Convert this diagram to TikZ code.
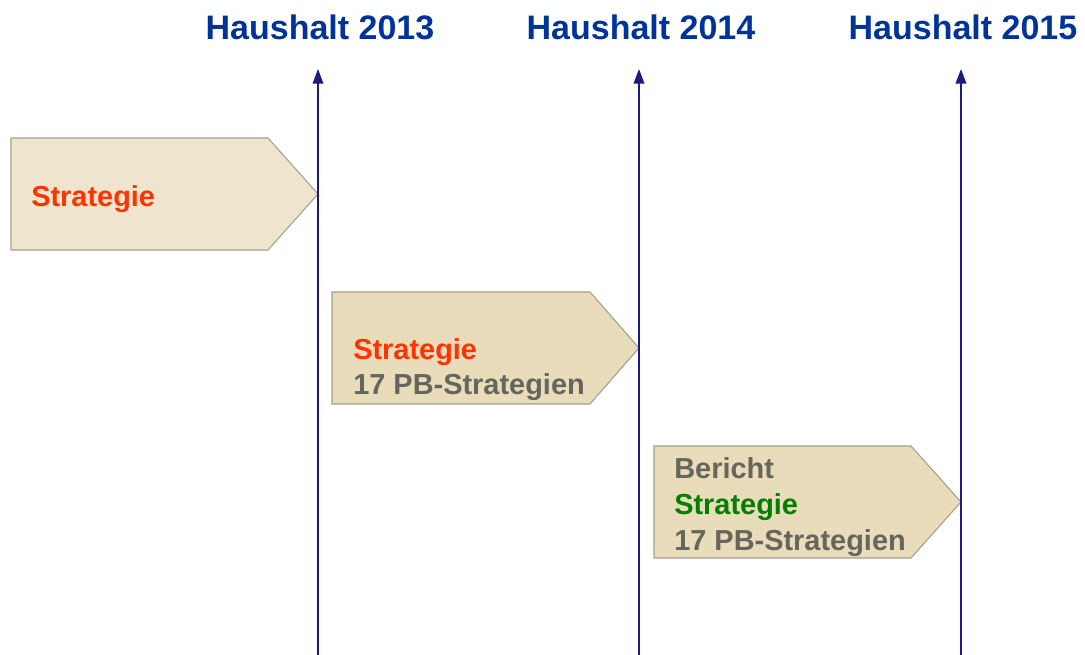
\documentclass[tikz,border=0pt]{standalone}
\usepackage{fontspec}
\setmainfont{Liberation Sans}
\usetikzlibrary{arrows.meta}
\definecolor{titleblue}{HTML}{003399}
\definecolor{axisblue}{HTML}{1A1A80}
\definecolor{boxfillA}{HTML}{EFE5CE}
\definecolor{boxfillB}{HTML}{E8DCBA}
\definecolor{boxline}{HTML}{A3A08E}
\definecolor{txtred}{HTML}{FF3300}
\definecolor{txtgreen}{HTML}{008000}
\definecolor{txtgray}{HTML}{66665C}
\tikzset{
  title/.style={font=\fontsize{25.5}{30}\selectfont\bfseries, text=titleblue, anchor=base, inner sep=0pt},
  axis/.style={draw=axisblue, line width=1.1pt, -{Triangle[length=11pt,width=8pt]}},
  arrowbox/.style={draw=boxline, line width=0.8pt},
  lbl/.style={font=\fontsize{21.7}{26}\selectfont\bfseries, anchor=base west, inner sep=0pt},
}
\begin{document}
\begin{tikzpicture}[x=0.75pt,y=-0.75pt]
\useasboundingbox (0,0) rectangle (1085,655);
% titles
\node[title] (t13) at (320,40) {Haushalt 2013};
\node[title] (t14) at (641,40) {Haushalt 2014};
\node[title] (t15) at (963,40) {Haushalt 2015};
% axis coordinates
\coordinate (b13) at (318,655); \coordinate (e13) at (318,69);
\coordinate (b14) at (639,655); \coordinate (e14) at (639,69);
\coordinate (b15) at (961,655); \coordinate (e15) at (961,69);
% boxes
\draw[arrowbox, fill=boxfillA] (11,138) -- (268,138) -- (318,194) coordinate (tip1) -- (268,250) -- (11,250) -- cycle;
\draw[arrowbox, fill=boxfillB] (332,292) -- (590,292) -- (639,348) coordinate (tip2) -- (590,404) -- (332,404) -- cycle;
\draw[arrowbox, fill=boxfillB] (654,446) -- (911,446) -- (961,502) coordinate (tip3) -- (911,558) -- (654,558) -- cycle;
% axes
\draw[axis] (b13) -- (e13);
\draw[axis] (b14) -- (e14);
\draw[axis] (b15) -- (e15);
% texts
\node[lbl, text=txtred] (s1) at (31,207) {Strategie};
\node[lbl, text=txtred] (s2) at (353,360) {Strategie};
\node[lbl, text=txtgray] (p2) at (353,395) {17 PB-Strategien};
\node[lbl, text=txtgray] (r3) at (674,479) {Bericht};
\node[lbl, text=txtgreen] (s3) at (674,514) {Strategie};
\node[lbl, text=txtgray] (p3) at (674,550) {17 PB-Strategien};
\end{tikzpicture}
\end{document}
